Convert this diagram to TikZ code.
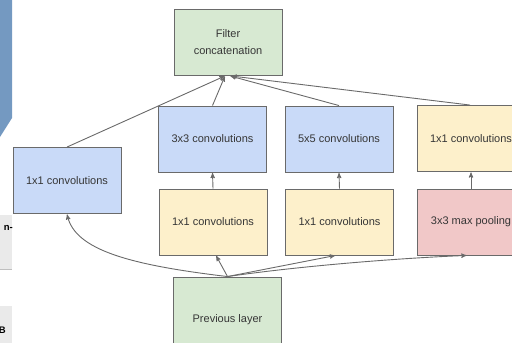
\documentclass[tikz,border=0pt]{standalone}
\usepackage{fontspec}
\setmainfont{Liberation Sans}
\usepackage{tikz}
\usetikzlibrary{arrows}

\definecolor{convblue}{HTML}{C9DAF8}
\definecolor{convyellow}{HTML}{FDF0CB}
\definecolor{poolred}{HTML}{F1C8C8}
\definecolor{layergreen}{HTML}{D7E9D2}
\definecolor{edgegray}{HTML}{6A6A6A}
\definecolor{textgray}{HTML}{363636}
\definecolor{slideblue}{HTML}{7499C1}
\definecolor{slidegray}{HTML}{EAEAEA}

\begin{document}
\begin{tikzpicture}[x=1pt,y=-1pt,>=stealth',font=\fontsize{11}{17}\selectfont]
  \tikzstyle{block}=[rectangle,draw=edgegray,line width=0.9pt,text=textgray,
              minimum width=108pt,minimum height=66pt,inner sep=0pt,align=center]
  \tikzstyle{conv}=[block,fill=convblue]
  \tikzstyle{reduce}=[block,fill=convyellow]
  \tikzstyle{pool}=[block,fill=poolred]
  \tikzstyle{layer}=[block,fill=layergreen]
  \tikzstyle{flow}=[->,draw=edgegray,line width=0.9pt,shorten >=0.5pt]

  \useasboundingbox (0,0) rectangle (512,343);
  \clip (0,0) rectangle (512,343);

  % left edge of the slide
  \fill[slideblue] (0,0) -- (12,0) -- (12,118) -- (0,137) -- cycle;
  \fill[slidegray] (0,215) rectangle (12,269);
  \draw[black!25] (0,269) -- (12,269);
  \fill[slidegray] (0,306) rectangle (12,343);
  \node[anchor=east,inner sep=0pt,font=\fontsize{9.5}{10}\selectfont\bfseries] (slideA) at (13,228) {n-};
  \node[anchor=east,inner sep=0pt,font=\fontsize{9.5}{10}\selectfont\bfseries] (slideB) at (6,330) {B};

  \node [layer] (concat) at (228,42.5) {Filter\\concatenation};
  \node [conv] (oneleft) at (67,180.5) {1x1 convolutions};
  \node [conv] (three) at (212.5,139) {3x3 convolutions};
  \node [conv] (five) at (339,139) {5x5 convolutions};
  \node [reduce] (oneright) at (471,138.5) {1x1 convolutions};
  \node [reduce] (redthree) at (213,222) {1x1 convolutions};
  \node [reduce] (redfive) at (339.5,222) {1x1 convolutions};
  \node [pool] (maxpool) at (471,222) {3x3 max pooling};
  \node [layer,minimum height=86pt] (prev) at (227.5,320) {Previous layer};

  \draw [flow] (prev.north) .. controls (130,265) and (75,250) .. (oneleft.south);
  \draw [flow] (prev.north) -- ([xshift=3pt]redthree.south);
  \draw [flow] (prev.north) -- ([xshift=-4pt]redfive.south);
  \draw [flow] (prev.north) .. controls (300,266) and (400,258) .. ([xshift=-4pt]maxpool.south);

  \draw [flow] (redthree.north) -- (three.south);
  \draw [flow] (redfive.north) -- (five.south);
  \draw [flow] (maxpool.north) -- (oneright.south);

  \draw [flow] (oneleft.north) -- ([xshift=-3pt]concat.south);
  \draw [flow] (three.north) -- ([xshift=-3pt]concat.south);
  \draw [flow] (five.north) -- ([xshift=2pt]concat.south);
  \draw [flow] ([xshift=-1pt]oneright.north) -- ([xshift=3pt]concat.south);
\end{tikzpicture}
\end{document}
